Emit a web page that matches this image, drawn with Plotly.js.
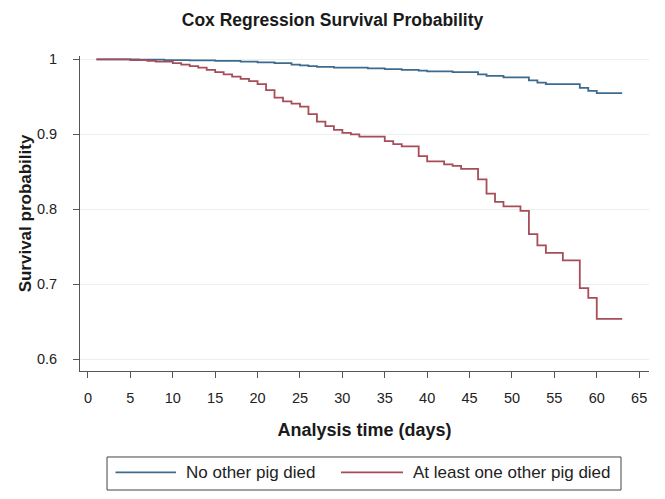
<!DOCTYPE html>
<html>
<head>
<meta charset="utf-8">
<script src="https://cdn.plot.ly/plotly-3.0.1.min.js"></script>
<style>html,body{margin:0;padding:0;background:#fff;}#chart{width:665px;height:499px;}</style>
</head>
<body>
<div id="chart"></div>
<script>
// Step data
const daysNoDeath = [1, 6, 9, 12, 15, 18, 20, 22, 24, 25, 26, 27, 29, 33, 35, 37, 39, 40, 43, 46, 47, 49, 52, 53, 54, 58, 59, 60, 63];
const survNoDeath = [1.000, 0.9995, 0.999, 0.9985, 0.998, 0.997, 0.996, 0.995, 0.993, 0.992, 0.991, 0.990, 0.989, 0.988, 0.987, 0.986, 0.985, 0.984, 0.983, 0.980, 0.978, 0.976, 0.972, 0.969, 0.967, 0.962, 0.958, 0.955, 0.955];

const daysDeath = [1, 5, 7, 8, 10, 11, 12, 13, 14, 15, 16, 17, 18, 19, 20, 21, 22, 23, 24, 25, 26, 27, 28, 29, 30, 31, 32, 35, 36, 37, 39, 40, 42, 43, 44, 46, 47, 48, 49, 51, 52, 53, 54, 56, 58, 59, 60, 63];
const survDeath = [1.000, 0.999, 0.998, 0.997, 0.995, 0.993, 0.991, 0.989, 0.986, 0.983, 0.980, 0.977, 0.974, 0.971, 0.967, 0.959, 0.949, 0.944, 0.941, 0.937, 0.927, 0.917, 0.911, 0.906, 0.902, 0.900, 0.897, 0.891, 0.887, 0.884, 0.871, 0.864, 0.860, 0.858, 0.854, 0.840, 0.821, 0.810, 0.804, 0.798, 0.767, 0.752, 0.742, 0.732, 0.695, 0.682, 0.654, 0.654];

const seriesNames = ["No other pig died", "At least one other pig died"];
const seriesColors = ["#3d6b8f", "#a84d58"];
const xTicks = [0, 5, 10, 15, 20, 25, 30, 35, 40, 45, 50, 55, 60, 65];
const yTicks = [0.6, 0.7, 0.8, 0.9, 1];
const yTickText = ["0.6", "0.7", "0.8", "0.9", "1"];

const FONT = "Liberation Sans, Arial, Helvetica, sans-serif";

const traces = [
  {x: daysNoDeath, y: survNoDeath, name: seriesNames[0], type: "scatter", mode: "lines",
   line: {shape: "hv", color: seriesColors[0], width: 1.8}},
  {x: daysDeath, y: survDeath, name: seriesNames[1], type: "scatter", mode: "lines",
   line: {shape: "hv", color: seriesColors[1], width: 1.8}}
];

// Legend drawn in paper coordinates (box, line samples, labels)
const legY = -0.3219;
const shapes = [
  {type: "rect", xref: "paper", yref: "paper", x0: 0.0475, x1: 0.9508, y0: -0.3778, y1: -0.2730,
   line: {color: "#444", width: 1}, fillcolor: "rgba(0,0,0,0)"},
  {type: "line", xref: "paper", yref: "paper", x0: 0.0624, x1: 0.1687, y0: legY, y1: legY,
   line: {color: seriesColors[0], width: 1.6}},
  {type: "line", xref: "paper", yref: "paper", x0: 0.4587, x1: 0.5677, y0: legY, y1: legY,
   line: {color: seriesColors[1], width: 1.6}}
];
const annotations = [
  {xref: "paper", yref: "paper", x: 0.1830, y: legY, xanchor: "left", yanchor: "middle", showarrow: false,
   text: seriesNames[0], font: {family: FONT, size: 17, color: "#222"}},
  {xref: "paper", yref: "paper", x: 0.5810, y: legY, xanchor: "left", yanchor: "middle", showarrow: false,
   text: seriesNames[1], font: {family: FONT, size: 17, color: "#222"}}
];

const layout = {
  width: 665, height: 499,
  paper_bgcolor: "#ffffff", plot_bgcolor: "#ffffff",
  margin: {l: 80, r: 16, t: 56, b: 128},
  font: {family: FONT, color: "#222", size: 14},
  title: {text: "<b>Cox Regression Survival Probability</b>", x: 0.5, xref: "container", xanchor: "center",
          y: 1 - 20/499, yref: "container", yanchor: "middle", font: {family: FONT, size: 17.5, color: "#1a1a1a"}},
  xaxis: {
    range: [-0.94, 66.16], tickvals: xTicks, ticktext: xTicks.map(String),
    showgrid: false, zeroline: false, showline: true, linecolor: "#555", linewidth: 1,
    ticks: "outside", ticklen: 6, tickcolor: "#555", tickfont: {size: 14.5, color: "#222"},
    ticklabelstandoff: 8,
    title: {text: "<b>Analysis time (days)</b>", font: {size: 18, color: "#1a1a1a"}, standoff: 17},
    automargin: false
  },
  yaxis: {
    range: [0.5844, 1.0044], tickvals: yTicks, ticktext: yTickText,
    showgrid: true, gridcolor: "#eaf0f0", gridwidth: 1, zeroline: false,
    showline: true, linecolor: "#555", linewidth: 1,
    ticks: "outside", ticklen: 6, tickcolor: "#555", tickfont: {size: 14.5, color: "#222"},
    ticklabelstandoff: 13,
    title: {text: "<b>Survival probability</b>", font: {size: 17, color: "#1a1a1a"}, standoff: 0},
    automargin: false
  },
  showlegend: false,
  shapes: shapes,
  annotations: annotations
};

Plotly.newPlot("chart", traces, layout, {displayModeBar: false, staticPlot: true});
</script>
</body>
</html>
